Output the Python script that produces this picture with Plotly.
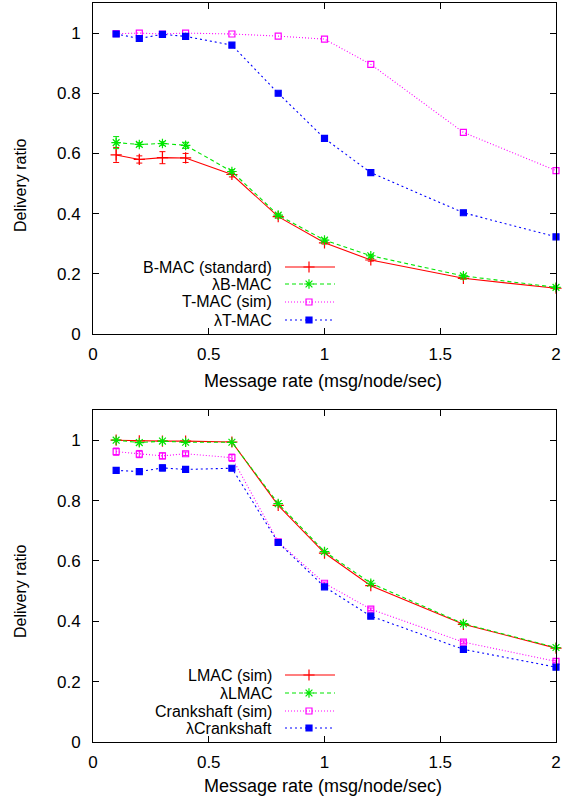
import plotly.graph_objects as go

x_rate = [0.1, 0.2, 0.3, 0.4, 0.6, 0.8, 1.0, 1.2, 1.6, 2.0]

# Top panel
bmac = [0.595, 0.580, 0.586, 0.585, 0.530, 0.390, 0.303, 0.246, 0.185, 0.152]
bmac_err = [0.025, 0.012, 0.020, 0.015, 0.008, 0.005, 0.004, 0.004, 0.003, 0.003]
lbmac = [0.636, 0.630, 0.633, 0.627, 0.540, 0.395, 0.312, 0.260, 0.193, 0.155]
lbmac_err = [0.020, 0.006, 0.006, 0.010, 0.006, 0.004, 0.004, 0.004, 0.003, 0.003]
tmac = [0.998, 1.000, 0.997, 1.000, 0.997, 0.990, 0.980, 0.896, 0.670, 0.543]
ltmac = [0.997, 0.982, 0.996, 0.989, 0.960, 0.800, 0.650, 0.536, 0.403, 0.323]

# Bottom panel
lmac = [1.000, 0.998, 0.997, 0.997, 0.994, 0.784, 0.626, 0.518, 0.390, 0.311]
llmac = [1.000, 0.992, 0.997, 0.993, 0.993, 0.790, 0.631, 0.526, 0.392, 0.313]
crank = [0.962, 0.954, 0.948, 0.955, 0.942, 0.663, 0.526, 0.440, 0.331, 0.267]
crank_err = [0.012, 0.012, 0.010, 0.006, 0.012, 0.004, 0.004, 0.004, 0.004, 0.004]
lcrank = [0.900, 0.896, 0.908, 0.903, 0.907, 0.661, 0.514, 0.417, 0.307, 0.248]
lcrank_err = [0.005, 0.006, 0.010, 0.006, 0.006, 0.004, 0.004, 0.004, 0.004, 0.004]

top_names = ["B-MAC (standard)", "\u03bbB-MAC", "T-MAC (sim)", "\u03bbT-MAC"]
bot_names = ["LMAC (sim)", "\u03bbLMAC", "Crankshaft (sim)", "\u03bbCrankshaft"]

x_ticks = [0, 0.5, 1, 1.5, 2]
y_ticks = [0, 0.2, 0.4, 0.6, 0.8, 1]
x_title = "Message rate (msg/node/sec)"
y_title = "Delivery ratio"

RED, GREEN, PINK, BLUE = "#ff0000", "#00e600", "#ff00ff", "#0000ff"
FONT = "Liberation Sans, Arial, sans-serif"

styles = [
    dict(color=RED, dash="solid", symbol="cross-thin-open", size=8),
    dict(color=GREEN, dash="4px,3px", symbol="asterisk-open", size=8),
    dict(color=PINK, dash="1px,2px", symbol="square-open", size=6),
    dict(color=BLUE, dash="2px,3px", symbol="square", size=6),
]

W, H = 562, 800

fig = go.Figure()

def add(y, name, st, xa, ya, err=None):
    kw = {}
    if err is not None:
        kw["error_y"] = dict(type="data", array=err, visible=True,
                             color=st["color"], thickness=1, width=3)
    fig.add_trace(go.Scatter(
        x=x_rate, y=y, name=name, mode="lines+markers", showlegend=False,
        xaxis=xa, yaxis=ya, cliponaxis=False,
        line=dict(color=st["color"], dash=st["dash"], width=1.1),
        marker=dict(symbol=st["symbol"], size=st["size"], color=st["color"],
                    line=dict(color=st["color"], width=1.2)),
        **kw))

add(bmac, top_names[0], styles[0], "x", "y", bmac_err)
add(lbmac, top_names[1], styles[1], "x", "y", lbmac_err)
add(tmac, top_names[2], styles[2], "x", "y")
add(ltmac, top_names[3], styles[3], "x", "y")

add(lmac, bot_names[0], styles[0], "x2", "y2")
add(llmac, bot_names[1], styles[1], "x2", "y2")
add(crank, bot_names[2], styles[2], "x2", "y2", crank_err)
add(lcrank, bot_names[3], styles[3], "x2", "y2", lcrank_err)

# Legend keys (gnuplot style: text right-aligned, sample on the right),
# drawn on a hidden pixel-space overlay axis.
legend_rows = {"top": [267, 284, 302, 320], "bot": [675, 693, 711, 728]}
key_x0, key_x1, key_mid, text_right = 285, 335, 309, 273
annotations = []
for names, rows in ((top_names, legend_rows["top"]), (bot_names, legend_rows["bot"])):
    for name, st, ry in zip(names, styles, rows):
        fig.add_trace(go.Scatter(
            x=[key_x0, key_x1], y=[ry, ry], mode="lines", showlegend=False,
            xaxis="x3", yaxis="y3", hoverinfo="skip",
            line=dict(color=st["color"], dash=st["dash"], width=1.1)))
        fig.add_trace(go.Scatter(
            x=[key_mid], y=[ry], mode="markers", showlegend=False,
            xaxis="x3", yaxis="y3", hoverinfo="skip",
            marker=dict(symbol=st["symbol"], size=st["size"], color=st["color"],
                        line=dict(color=st["color"], width=1.2))))
        annotations.append(dict(x=text_right / W, y=1 - ry / H, xref="paper", yref="paper",
                                text=name, showarrow=False, xanchor="right", yanchor="middle",
                                borderpad=0,
                                font=dict(size=16, family=FONT, color="black")))

# Axis titles
for xc, yc in ((323, 381), (323, 786)):
    annotations.append(dict(x=xc / W, y=1 - yc / H, xref="paper", yref="paper", text=x_title,
                            showarrow=False, xanchor="center", yanchor="middle", borderpad=0,
                            font=dict(size=18, family=FONT, color="black")))
for xc, yc in ((20, 186), (20, 592)):
    annotations.append(dict(x=xc / W, y=1 - yc / H, xref="paper", yref="paper", text=y_title,
                            showarrow=False, xanchor="center", yanchor="middle", textangle=-90,
                            font=dict(size=16, family=FONT, color="black")))

xdom = [93 / W, 556 / W]
ydom1 = [1 - 334 / H, 1 - 3 / H]
ydom2 = [1 - 742 / H, 1 - 410 / H]

axis_common = dict(showline=True, linecolor="black", linewidth=1, mirror="ticks",
                   ticks="inside", ticklen=6, tickcolor="black", showgrid=False,
                   zeroline=False, automargin=False,
                   tickfont=dict(size=17, color="black", family=FONT))

xa = dict(axis_common, range=[0, 2], tickvals=x_ticks, ticktext=[str(v) for v in x_ticks],
          domain=xdom, ticklabelstandoff=5)
ya = dict(axis_common, range=[0, 1.1], tickvals=y_ticks, ticktext=[str(v) for v in y_ticks],
          ticklabelstandoff=8)

fig.update_layout(
    width=W, height=H, margin=dict(l=0, r=0, t=0, b=0),
    paper_bgcolor="white", plot_bgcolor="rgba(0,0,0,0)", font=dict(family=FONT),
    showlegend=False,
    xaxis=dict(xa, anchor="y"),
    yaxis=dict(ya, domain=ydom1, anchor="x"),
    xaxis2=dict(xa, anchor="y2"),
    yaxis2=dict(ya, domain=ydom2, anchor="x2"),
    xaxis3=dict(domain=[0, 1], range=[0, W], visible=False, anchor="y3", fixedrange=True),
    yaxis3=dict(domain=[0, 1], range=[H, 0], visible=False, anchor="x3", fixedrange=True),
    annotations=annotations,
)

fig.write_html(
    "out.html",
    config={"displayModeBar": False},
    post_script="document.body.style.margin='0';document.body.style.padding='0';"
                "document.documentElement.style.overflow='hidden';",
)
